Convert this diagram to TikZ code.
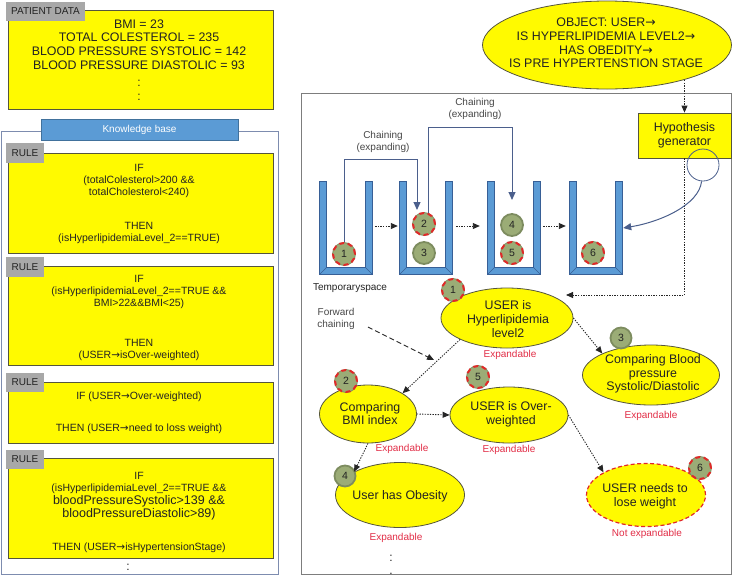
\documentclass[tikz,border=0pt]{standalone}
\usepackage{fontspec}
\setmainfont{Liberation Sans}
\newfontfamily\arrfont{DejaVu Sans}
\usetikzlibrary{arrows.meta,shapes.geometric}
\newcommand{\rarrow}{{\arrfont →}}
\definecolor{yfill}{RGB}{255,250,0}
\definecolor{yedge}{RGB}{85,85,60}
\definecolor{tabgray}{RGB}{168,168,168}
\definecolor{kbblue}{RGB}{91,155,213}
\definecolor{kbbar}{RGB}{65,113,156}
\definecolor{kbedge}{RGB}{125,140,175}
\definecolor{framegray}{RGB}{125,125,125}
\definecolor{contfill}{RGB}{91,155,213}
\definecolor{contedge}{RGB}{55,95,150}
\definecolor{chainblue}{RGB}{75,95,140}
\definecolor{ballfill}{RGB}{155,172,118}
\definecolor{ballring}{RGB}{125,140,95}
\definecolor{ballred}{RGB}{225,40,40}
\definecolor{txt}{RGB}{35,35,35}
\definecolor{redtxt}{RGB}{225,45,70}
\definecolor{graytxt}{RGB}{70,70,70}
\begin{document}
\begin{tikzpicture}[x=1pt,y=-1pt,
 yrect/.style={draw=yedge, fill=yfill, line width=0.8pt, inner sep=0pt},
 tabbox/.style={fill=tabgray, text=txt, font=\fontsize{10}{12}\selectfont, inner sep=0pt, minimum height=19pt},
 ruletext/.style={text=txt, font=\fontsize{10.5}{12}\selectfont, align=center, inner sep=0pt},
 ruletextbig/.style={text=txt, font=\fontsize{12.5}{13}\selectfont, align=center, inner sep=0pt},
 bigtext/.style={text=txt, font=\fontsize{12.4}{13.7}\selectfont, align=center, inner sep=0pt},
 smalltext/.style={text=graytxt, font=\fontsize{10}{12}\selectfont, align=center, inner sep=0pt},
 redtext/.style={text=redtxt, font=\fontsize{10}{12}\selectfont, inner sep=0pt},
 yell/.style={ellipse, draw=yedge, fill=yfill, line width=0.8pt, inner sep=0pt},
 ball/.style={circle, fill=ballfill, draw=ballring, line width=1.8pt, minimum size=#1, inner sep=0pt, text=txt, font=\fontsize{10.5}{12}\selectfont},
 redball/.style={ball=#1, preaction={draw=ballring, fill=ballfill, line width=1.8pt, solid}, draw=ballred, line width=2pt, dash pattern=on 5pt off 3.5pt},
 container/.style={draw=contedge, fill=contfill, line width=0.8pt, line join=miter},
 dotarrow/.style={draw=black!85, line width=0.9pt, dash pattern=on 1.3pt off 1.3pt, -{Triangle[length=7pt,width=6pt]}},
 chainarrow/.style={draw=chainblue, line width=1pt, -{Triangle[length=8pt,width=7pt]}},
 fwdarrow/.style={draw=black!85, line width=0.9pt, dash pattern=on 5pt off 3pt, -{Triangle[length=7pt,width=6pt]}},
 dots/.style={text=txt, font=\fontsize{12}{12}\selectfont, inner sep=0pt, align=center}
]
\useasboundingbox (0,0) rectangle (733,576);

% ---------------- Patient data
\node[yrect, minimum width=265pt, minimum height=99pt] (pd) at (140.5,59.5) {};
\node[tabbox, minimum width=79pt] (pdtab) at (45.5,11.5) {PATIENT DATA};
\node[bigtext] (pdt) at (139,44.5) {BMI = 23\\TOTAL COLESTEROL = 235\\BLOOD PRESSURE SYSTOLIC = 142\\BLOOD PRESSURE DIASTOLIC = 93};
\node[dots] (pdd1) at (139,83) {:};
\node[dots] (pdd2) at (139,97) {:};

% ---------------- Knowledge base
\node[draw=kbedge, line width=0.9pt, minimum width=277pt, minimum height=443pt, inner sep=0pt] (kb) at (139.5,352.5) {};
\node[fill=kbblue, draw=kbbar, line width=0.8pt, text=white, font=\fontsize{10}{12}\selectfont, minimum width=197pt, minimum height=21pt, inner sep=0pt] (kbt) at (139.5,129.5) {Knowledge base};

\node[yrect, minimum width=265pt, minimum height=100pt] (r1) at (140.5,203) {};
\node[tabbox, minimum width=38pt, minimum height=20pt] (r1tab) at (25,153) {RULE};
\node[ruletext] (r1if) at (139,181) {IF\\(totalColesterol>200 \&\&\\totalCholesterol<240)};
\node[ruletext] (r1then) at (139,233) {THEN\\(isHyperlipidemiaLevel\_2==TRUE)};

\node[yrect, minimum width=265pt, minimum height=99pt] (r2) at (140.5,315.5) {};
\node[tabbox, minimum width=38pt, minimum height=20pt] (r2tab) at (25,267) {RULE};
\node[ruletext] (r2if) at (139,292) {IF\\(isHyperlipidemiaLevel\_2==TRUE \&\&\\BMI>22\&\&BMI<25)};
\node[ruletext] (r2then) at (139,350) {THEN\\(USER\rarrow isOver-weighted)};

\node[yrect, minimum width=265pt, minimum height=61pt] (r3) at (140.5,412.5) {};
\node[tabbox, minimum width=38pt, minimum height=19pt] (r3tab) at (25,382) {RULE};
\node[ruletext] (r3if) at (139,397) {IF (USER\rarrow Over-weighted)};
\node[ruletext] (r3then) at (139,429) {THEN (USER\rarrow need to loss weight)};

\node[yrect, minimum width=265pt, minimum height=100pt] (r4) at (140.5,508) {};
\node[tabbox, minimum width=38pt, minimum height=19pt] (r4tab) at (25,459.5) {RULE};
\node[ruletext] (r4if) at (139,476) {IF};
\node[ruletext] (r4a) at (139,489) {(isHyperlipidemiaLevel\_2==TRUE \&\&};
\node[ruletextbig] (r4b) at (139,501) {bloodPressureSystolic>139 \&\&};
\node[ruletextbig] (r4c) at (139,514) {bloodPressureDiastolic>89)};
\node[ruletext] (r4then) at (139,548) {THEN (USER\rarrow isHypertensionStage)};
\node[dots] (kbdots) at (128,567) {:};

% ---------------- Right frame
\node[draw=framegray, line width=1pt, minimum width=430pt, minimum height=481pt, inner sep=0pt] (frame) at (516,333.5) {};

% Object ellipse
\node[yell, minimum width=249pt, minimum height=88pt] (obj) at (607,45) {};
\node[bigtext] (objt) at (606,43) {OBJECT: USER\rarrow\\IS HYPERLIPIDEMIA LEVEL2\rarrow\\HAS OBEDITY\rarrow\\IS PRE HYPERTENSTION STAGE};

% Hypothesis generator
\node[yrect, minimum width=93pt, minimum height=45pt, align=center, text=txt, font=\fontsize{12.4}{14}\selectfont] (hyp) at (684.5,135.5) {Hypothesis\\generator};
\coordinate (objout) at (684.5,80);
\draw[dotarrow] (objout) -- (hyp.north);
\coordinate (hypin) at (566,295);
\draw[dotarrow] (hyp.south) -- (hyp.south |- hypin) -- (hypin);

% Containers
\node[minimum width=52pt, minimum height=92pt, inner sep=0pt] (c1) at (346,228) {};
\node[minimum width=52pt, minimum height=92pt, inner sep=0pt] (c2) at (426,228) {};
\node[minimum width=52pt, minimum height=92pt, inner sep=0pt] (c3) at (514,228) {};
\node[minimum width=52pt, minimum height=92pt, inner sep=0pt] (c4) at (596,228) {};
\foreach \c in {c1,c2,c3,c4}{
  \draw[container] (\c.north west) -- (\c.south west) -- (\c.south east) -- (\c.north east)
    -- ([xshift=-6.5pt]\c.north east) -- ([shift={(-6.5,-6.5)}]\c.south east)
    -- ([shift={(6.5,-6.5)}]\c.south west) -- ([xshift=6.5pt]\c.north west) -- cycle;
  \draw[contedge, line width=0.5pt] (\c.south west) -- ([shift={(6.5,-6.5)}]\c.south west)
    (\c.south east) -- ([shift={(-6.5,-6.5)}]\c.south east);
}
\node[smalltext, text=txt] (temp) at (350,288) {Temporaryspace};

\draw[dotarrow, shorten <=3pt, shorten >=2pt] ([yshift=2pt]c1.east) -- ([yshift=2pt]c2.west);
\draw[dotarrow, shorten <=4pt, shorten >=8pt] ([yshift=2pt]c2.east) -- ([yshift=2pt]c3.west);
\draw[dotarrow, shorten <=3pt, shorten >=4pt] ([yshift=2pt]c3.east) -- ([yshift=2pt]c4.west);

% Balls in containers
\node[redball=22pt] (b1) at (344,254) {1};
\node[redball=22pt] (b2) at (424,224) {2};
\node[ball=22pt] (b3) at (424,253) {3};
\node[ball=22pt] (b4) at (512,225) {4};
\node[redball=22pt] (b5) at (512,253) {5};
\node[redball=22pt] (b6) at (593,253) {6};

% Chaining arrows
\coordinate (ch1a) at (417,159);
\coordinate (ch1b) at (417,210);
\draw[chainarrow] (b1.north) |- (ch1a) -- (ch1b);
\node[smalltext] (ch1t) at (383,142) {Chaining\\(expanding)};
\coordinate (ch2a) at (512,127);
\coordinate (ch2b) at (512,200);
\draw[chainarrow] (b2.68) |- (ch2a) -- (ch2b);
\node[smalltext] (ch2t) at (475,108.5) {Chaining\\(expanding)};

% Hypothesis circle and curve
\node[circle, draw=chainblue, line width=0.8pt, minimum size=32pt, inner sep=0pt] (hypc) at (703,165) {};
\draw[chainarrow] (hypc.-95) .. controls (699,205) and (660,222) .. ([xshift=1pt]c4.east);

% ---------------- Graph
\node[yell, minimum width=132pt, minimum height=60pt] (e1) at (507,318) {};
\node[bigtext] (e1t) at (508,319) {USER is\\Hyperlipidemia\\level2};
\node[yell, minimum width=137pt, minimum height=60pt] (e3) at (651,375) {};
\node[bigtext] (e3t) at (653,374) {Comparing Blood\\pressure\\Systolic/Diastolic};
\node[yell, minimum width=97pt, minimum height=58pt] (e2) at (368,414) {};
\node[bigtext] (e2t) at (370,413.5) {Comparing\\BMI index};
\node[yell, minimum width=118pt, minimum height=56pt] (e5) at (509,415) {};
\node[bigtext] (e5t) at (511,414) {USER is Over-\\weighted};
\node[yell, minimum width=129pt, minimum height=65pt] (e4) at (400,495) {};
\node[bigtext] (e4t) at (400,496) {User has Obesity};
\node[yell, draw=ballred, line width=1.2pt, dash pattern=on 4pt off 2.5pt, minimum width=119pt, minimum height=63pt] (e6) at (646,495) {};
\node[bigtext] (e6t) at (645,496) {USER needs to\\lose weight};

\node[redball=22pt] (g1) at (453,290) {1};
\node[ball=21pt] (g3) at (621,338) {3};
\node[redball=22pt] (g2) at (346,381) {2};
\node[redball=22pt] (g5) at (478,377) {5};
\node[ball=21pt] (g4) at (345,476) {4};
\node[redball=22pt] (g6) at (700,468) {6};

\node[redtext] (x1) at (510,355) {Expandable};
\node[redtext] (x3) at (651,416) {Expandable};
\node[redtext] (x2) at (402,449) {Expandable};
\node[redtext] (x5) at (509,450) {Expandable};
\node[redtext] (x4) at (396,538) {Expandable};
\node[redtext] (x6) at (647,534) {Not expandable};

\draw[dotarrow] (e1.east) -- (e3.north west);
\draw[dotarrow] (e1.south west) -- (e2.north east);
\draw[dotarrow] (e2.east) -- (e5.west);
\draw[dotarrow] (e2.south) -- (e4.north west);
\draw[dotarrow] (e5.east) -- (e6.north west);

\node[smalltext] (fwd) at (336,319) {Forward\\chaining};
\coordinate (fcs) at (368,327);
\coordinate (fce) at (434,360);
\draw[fwdarrow] (fcs) -- (fce);

\node[dots, font=\fontsize{12}{13}\selectfont] (gdots) at (391,565) {:\\.};
\end{tikzpicture}
\end{document}
